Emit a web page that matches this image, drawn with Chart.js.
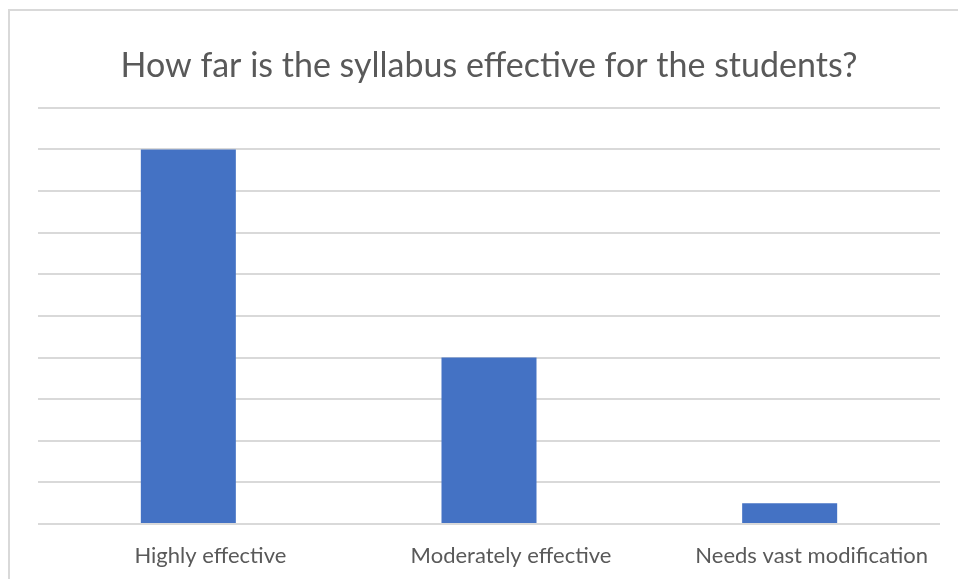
<!DOCTYPE html>
<html>
<head>
<meta charset="utf-8">
<script src="https://cdn.jsdelivr.net/npm/chart.js@4.4.0/dist/chart.umd.min.js"></script>
<style>
  html, body { margin: 0; padding: 0; background: #ffffff; overflow: hidden; }
  #frame { position: absolute; left: 8px; top: 9px; width: 1000px; height: 620px; border: 2px solid #d9d9d9; box-sizing: border-box; }
  #wrap { position: absolute; left: 0; top: 0; width: 958px; height: 579px; }
</style>
</head>
<body>
<div id="frame"></div>
<div id="wrap"><canvas id="c" width="958" height="579"></canvas></div>
<script>
const titleText = "How far is the syllabus effective for the students?";
const categories = ["Highly effective", "Moderately effective", "Needs vast modification"];
const values = [9, 4, 0.5];
const yMin = 0;
const yMax = 10;
const yStep = 1;

new Chart(document.getElementById('c'), {
  type: 'bar',
  data: {
    labels: categories,
    datasets: [{
      data: values,
      backgroundColor: '#4472C4',
      borderWidth: 0,
      categoryPercentage: 1,
      barPercentage: 0.316
    }]
  },
  options: {
    responsive: false,
    animation: false,
    events: [],
    layout: { padding: { left: 38, right: 18, top: 0, bottom: 0 } },
    plugins: {
      legend: { display: false },
      tooltip: { enabled: false },
      title: {
        display: true,
        text: titleText,
        color: '#595959',
        font: { family: 'Lato', size: 34, weight: 'normal' },
        padding: { top: 46, bottom: 21 }
      }
    },
    scales: {
      x: {
        grid: { display: false, drawTicks: false },
        border: { display: false },
        ticks: {
          color: '#595959',
          font: { family: 'Lato', size: 22 },
          padding: 19,
          labelOffset: 22,
          maxRotation: 0
        },
        afterFit: function (scale) { scale.height = 55; }
      },
      y: {
        min: yMin,
        max: yMax,
        ticks: { display: false, stepSize: yStep },
        grid: { color: '#d9d9d9', lineWidth: 2, drawTicks: false },
        border: { display: false }
      }
    }
  }
});
</script>
</body>
</html>
